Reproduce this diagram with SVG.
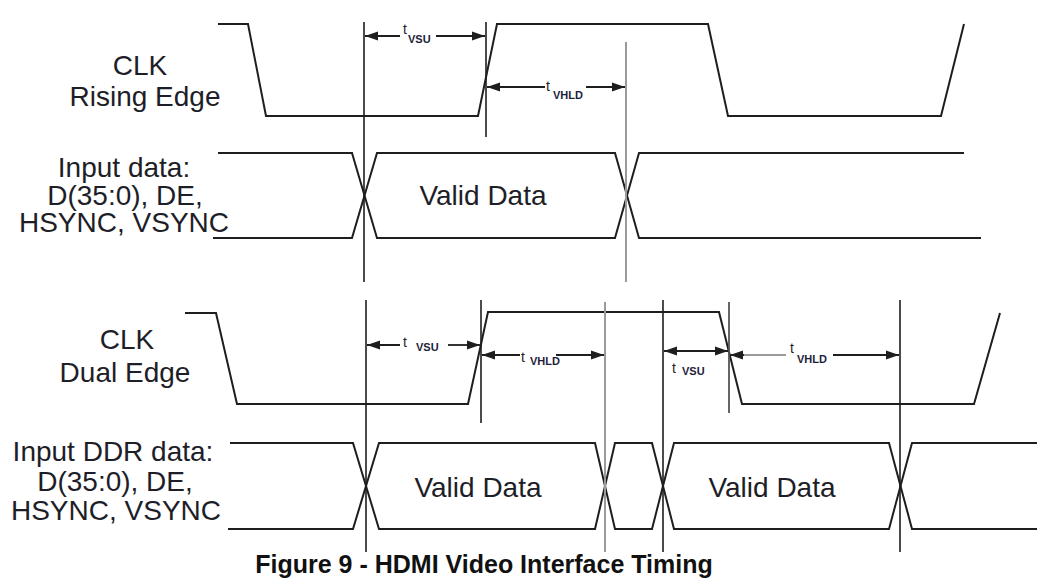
<svg xmlns="http://www.w3.org/2000/svg" width="1042" height="584" viewBox="0 0 1042 584">
<style>
.wave{fill:none;stroke:#1e1e1e;stroke-width:2;stroke-linejoin:miter}
.vb{stroke:#1e1e1e;stroke-width:1.6}
.vg{stroke:#9a9a9a;stroke-width:2}
.dim{stroke:#1e1e1e;stroke-width:1.8;fill:none}
.dimg{stroke:#9a9a9a;stroke-width:1.8;fill:none}
.lbl{font-family:"Liberation Sans",Arial,sans-serif;font-size:28px;fill:#1e1e28;text-anchor:middle}
.t{font-family:"Liberation Sans",Arial,sans-serif;font-size:14px;fill:#1e1e28}
.sub{font-family:"Liberation Sans",Arial,sans-serif;font-size:11px;font-weight:bold;fill:#1e1e3a}
.cap{font-family:"Liberation Sans",Arial,sans-serif;font-size:25px;font-weight:bold;fill:#111;text-anchor:middle}
</style>
<defs>
<marker id="ah" markerUnits="userSpaceOnUse" markerWidth="14" markerHeight="10" refX="13" refY="5" orient="auto-start-reverse">
<path d="M0,0.5 L13,5 L0,9.5 z" fill="#1e1e1e"/>
</marker>
</defs>
<rect width="1042" height="584" fill="#fff"/>

<g id="labels">
<text class="lbl" x="140" y="75">CLK</text>
<text class="lbl" x="145" y="106">Rising Edge</text>
<text class="lbl" x="124" y="177">Input data:</text>
<text class="lbl" x="125" y="205">D(35:0), DE,</text>
<text class="lbl" x="124" y="232">HSYNC, VSYNC</text>
<text class="lbl" x="127" y="349">CLK</text>
<text class="lbl" x="125" y="382">Dual Edge</text>
<text class="lbl" x="113" y="461">Input DDR data:</text>
<text class="lbl" x="115" y="491">D(35:0), DE,</text>
<text class="lbl" x="116" y="520">HSYNC, VSYNC</text>
</g>

<g id="clk-rising">
<path class="wave" d="M218,24 L248,24 L266,116 L478,116 L497,24 L708,24 L728,116 L941,116 L964,24"/>
</g>
<g id="data-sdr">
<path class="wave" d="M218,153 L352,153 L377,238 L615,238 L639,153 L964,153"/>
<path class="wave" d="M213,238 L352,238 L377,153 L615,153 L639,238 L981,238"/>
<text class="lbl" x="483" y="205">Valid Data</text>
</g>

<g id="clk-dual">
<path class="wave" d="M185,313 L216,313 L237,404 L468,404 L488,312 L719,312 L742,404 L974,404 L1000,313"/>
</g>
<g id="data-ddr">
<path class="wave" d="M230,443 L353,443 L379,529 L595,529 L615,443 L652,443 L674,529 L889,529 L912,443 L1037,443"/>
<path class="wave" d="M228,529 L353,529 L379,443 L595,443 L615,529 L652,529 L674,443 L889,443 L912,529 L1037,529"/>
<text class="lbl" x="478" y="497">Valid Data</text>
<text class="lbl" x="772" y="497">Valid Data</text>
</g>

<g id="connectors">
<line class="vb" x1="364" y1="22" x2="364" y2="282"/>
<line class="vb" x1="486" y1="22" x2="486" y2="137"/>
<line class="vg" x1="626" y1="42" x2="626" y2="282"/>
<line class="vb" x1="366" y1="300" x2="366" y2="552"/>
<line class="vb" x1="481" y1="300" x2="481" y2="423"/>
<line class="vg" x1="605" y1="302" x2="605" y2="552"/>
<line class="vb" x1="663" y1="300" x2="663" y2="552"/>
<line x1="729" y1="302" x2="729" y2="413" stroke="#555" stroke-width="1.8"/>
<line class="vb" x1="900" y1="300" x2="900" y2="552"/>

<line class="dim" x1="400" y1="36" x2="365" y2="36" marker-end="url(#ah)"/>
<line class="dim" x1="436" y1="36" x2="485" y2="36" marker-end="url(#ah)"/>
<line class="dim" x1="545" y1="87" x2="487" y2="87" marker-end="url(#ah)"/>
<line class="dim" x1="586" y1="87" x2="625" y2="87" marker-end="url(#ah)"/>

<line class="dim" x1="400" y1="345" x2="367" y2="345" marker-end="url(#ah)"/>
<line class="dim" x1="448" y1="345" x2="480" y2="345" marker-end="url(#ah)"/>
<line class="dim" x1="520" y1="355" x2="482" y2="355" marker-end="url(#ah)"/>
<line class="dim" x1="556" y1="355" x2="604" y2="355" marker-end="url(#ah)"/>

<line class="dim" x1="664" y1="351" x2="728" y2="351" marker-start="url(#ah)" marker-end="url(#ah)"/>
<line class="dimg" x1="742" y1="355" x2="786" y2="355"/>
<line class="dim" x1="744" y1="355" x2="730" y2="355" marker-end="url(#ah)"/>
<line class="dim" x1="833" y1="355" x2="899" y2="355" marker-end="url(#ah)"/>
</g>

<g id="dim-labels">
<text class="t" x="403" y="34">t</text><text class="sub" x="408" y="43">VSU</text>
<text class="t" x="546" y="91">t</text><text class="sub" x="553" y="99">VHLD</text>
<text class="t" x="403" y="347">t</text><text class="sub" x="416" y="351">VSU</text>
<text class="t" x="521" y="362">t</text><text class="sub" x="530" y="365">VHLD</text>
<text class="t" x="672" y="373">t</text><text class="sub" x="682" y="375">VSU</text>
<text class="t" x="790" y="353">t</text><text class="sub" x="797" y="363">VHLD</text>
</g>

<text class="cap" x="484" y="573">Figure 9 - HDMI Video Interface Timing</text>
</svg>
